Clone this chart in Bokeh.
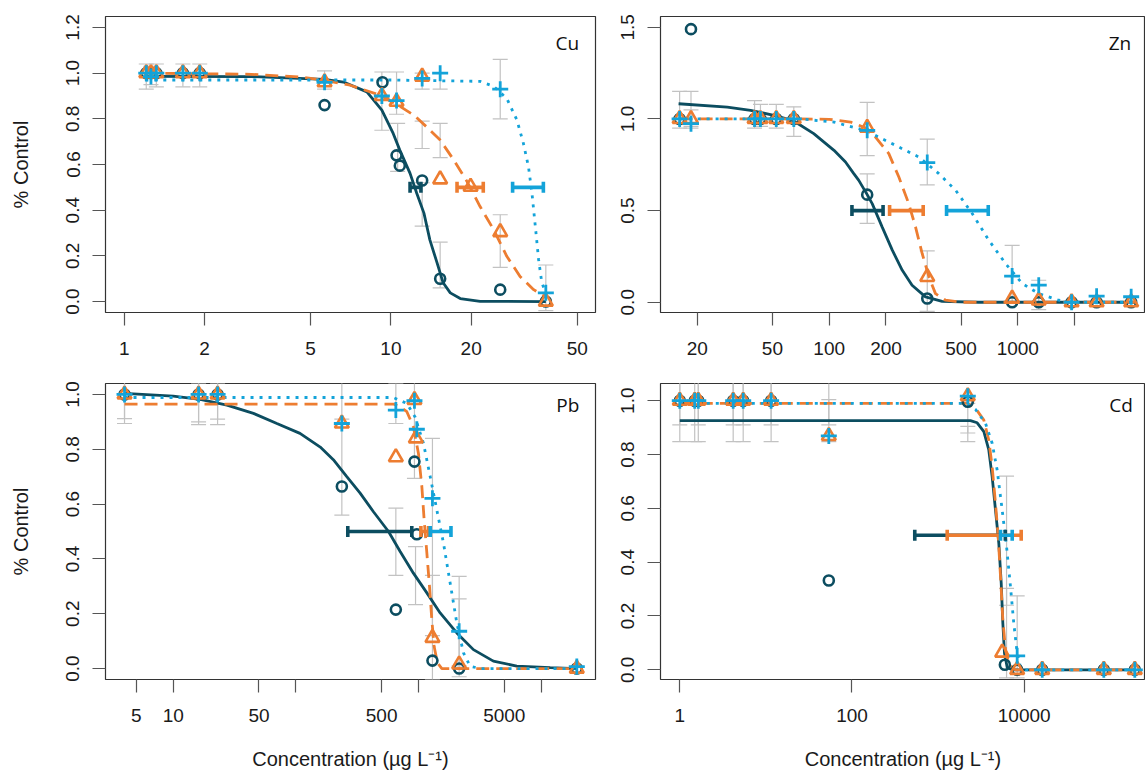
from bokeh.plotting import figure
from bokeh.layouts import column, row
from bokeh.models import (Range1d, FixedTicker, PrintfTickFormatter, Whisker, TeeHead,
                          ColumnDataSource, Label)
from bokeh.embed import file_html
from bokeh.resources import INLINE

DARK = "#0c4d60"
ORANGE = "#ed7d31"
BLUE = "#13a3d9"
GREY = "#c2c2c2"

# ---------------- Cu ----------------
cu_dark_x = [1.21, 1.26, 1.32, 1.66, 1.92, 5.64, 9.3, 10.5, 10.8, 13.1, 15.3, 25.7, 38.1]
cu_dark_y = [1.0, 1.0, 1.0, 1.0, 1.0, 0.86, 0.96, 0.64, 0.595, 0.53, 0.10, 0.052, 0.0]
cu_or_x = [1.21, 1.26, 1.32, 1.66, 1.92, 5.64, 9.25, 10.5, 13.1, 15.3, 19.9, 25.7, 38.1]
cu_or_y = [1.0, 1.0, 1.0, 1.0, 1.0, 0.96, 0.90, 0.875, 0.985, 0.535, 0.503, 0.304, 0.0]
cu_bl_x = [1.21, 1.26, 1.32, 1.66, 1.92, 5.64, 9.25, 10.5, 13.1, 15.3, 25.7, 38.1]
cu_bl_y = [1.0, 0.985, 1.0, 1.0, 1.0, 0.96, 0.90, 0.88, 0.977, 1.0, 0.93, 0.038]

cu_fit_dark_x = [1.2, 3.0, 5.64, 6.64, 8.13, 9.25, 10.2, 10.8, 11.8, 12.5, 13.3, 14.0, 14.9, 15.7, 16.7, 18.2, 21.6, 38.1]
cu_fit_dark_y = [0.986, 0.985, 0.973, 0.961, 0.918, 0.838, 0.736, 0.663, 0.561, 0.474, 0.387, 0.27, 0.169, 0.082, 0.038, 0.013, 0.001, 0.0]
cu_fit_or_x = [1.2, 3.0, 4.57, 5.64, 7.04, 9.12, 10.8, 12.2, 13.6, 15.3, 17.2, 19.3, 21.6, 24.3, 27.2, 30.5, 34.3, 38.1]
cu_fit_or_y = [1.0, 0.995, 0.983, 0.969, 0.947, 0.903, 0.855, 0.816, 0.765, 0.707, 0.62, 0.525, 0.416, 0.314, 0.198, 0.11, 0.052, 0.019]
cu_fit_bl_x = [1.2, 10.0, 21.6, 24.3, 27.2, 29.7, 31.4, 32.8, 33.8, 34.8, 35.8, 36.8, 38.1]
cu_fit_bl_y = [0.97, 0.97, 0.964, 0.942, 0.889, 0.794, 0.692, 0.59, 0.474, 0.329, 0.183, 0.082, 0.038]

cu_eb_x = [1.21, 1.26, 1.32, 1.66, 1.92, 5.64, 9.25, 10.5, 10.6, 13.1, 13.1, 13.1, 15.3, 15.3, 15.3, 25.7, 25.7, 38.1]
cu_eb_lo = [0.93, 0.95, 0.94, 0.94, 0.94, 0.93, 0.75, 0.82, 0.57, 0.93, 0.67, 0.33, 0.93, 0.63, 0.06, 0.80, 0.15, -0.04]
cu_eb_hi = [1.04, 1.03, 1.04, 1.04, 1.04, 1.01, 1.005, 1.005, 0.78, 1.0, 0.79, 0.52, 1.0, 0.78, 0.26, 1.06, 0.38, 0.16]

cu_ec50_lo = [11.8, 17.7, 28.6]
cu_ec50_hi = [12.96, 22.2, 37.3]

# ---------------- Zn ----------------
zn_x = [16.1, 18.5, 40.2, 43.2, 52.4, 64.9, 159, 331, 933, 1291, 1928, 2617, 3990]
zn_dark_y = [1.0, 1.49, 1.0, 1.0, 1.0, 1.0, 0.587, 0.02, 0.0, 0.0, 0.0, 0.0, 0.0]
zn_or_y = [1.0, 1.0, 1.0, 1.0, 1.0, 1.0, 0.952, 0.138, 0.02, 0.01, 0.0, 0.0, 0.0]
zn_bl_y = [1.0, 0.974, 1.0, 1.0, 1.0, 1.0, 0.938, 0.762, 0.143, 0.093, 0.0, 0.033, 0.03]

zn_fit_dark_x = [15.9, 28.8, 38.3, 50.9, 64.9, 82.8, 106, 122, 135, 143.5, 159, 169, 191, 216, 244, 275, 324, 397, 621, 4200]
zn_fit_dark_y = [1.083, 1.065, 1.047, 1.02, 0.989, 0.92, 0.829, 0.765, 0.702, 0.665, 0.587, 0.538, 0.41, 0.284, 0.174, 0.093, 0.029, 0.005, 0.0, 0.0]
zn_fit_or_x = [16.1, 70, 100, 130, 159, 176, 207, 234, 264, 287, 311, 338, 366, 414, 507, 4200]
zn_fit_or_y = [1.0, 1.0, 0.998, 0.983, 0.947, 0.901, 0.811, 0.683, 0.538, 0.41, 0.266, 0.138, 0.047, 0.011, 0.0, 0.0]
zn_fit_bl_x = [16.1, 70.5, 106, 159, 183, 234, 299, 381, 468, 573, 702, 861, 1055, 1291, 1648, 2104, 4200]
zn_fit_bl_y = [1.0, 1.0, 0.983, 0.934, 0.901, 0.847, 0.792, 0.702, 0.611, 0.484, 0.338, 0.211, 0.102, 0.047, 0.011, 0.0, 0.0]

zn_eb_x = [16.1, 18.5, 18.5, 40.2, 43.2, 52.4, 64.9, 159, 159, 331, 331, 933, 1291]
zn_eb_lo = [0.95, 0.95, 0.96, 0.95, 0.96, 0.95, 0.905, 0.80, 0.43, 0.64, -0.05, 0.0, -0.04]
zn_eb_hi = [1.15, 1.15, 1.05, 1.10, 1.08, 1.08, 1.066, 1.09, 0.70, 0.89, 0.28, 0.31, 0.12]

zn_ec50_lo = [132, 209, 419]
zn_ec50_hi = [193, 315, 697]

# ---------------- Pb ----------------
pb_dark_x = [4.01, 16.1, 23.0, 237, 653, 926, 968, 1298, 2143, 19500]
pb_dark_y = [1.0, 1.0, 1.0, 0.664, 0.215, 0.755, 0.49, 0.029, 0.0, 0.0]
pb_or_x = [4.01, 16.1, 23.0, 237, 653, 926, 951, 1298, 2143, 19500]
pb_or_y = [1.0, 1.0, 1.0, 0.894, 0.771, 0.98, 0.84, 0.112, 0.015, 0.0]
pb_bl_x = [4.01, 16.1, 23.0, 237, 653, 926, 968, 1298, 2143, 19500]
pb_bl_y = [1.0, 1.0, 1.0, 0.894, 0.943, 0.977, 0.873, 0.621, 0.136, 0.007]

pb_fit_dark_x = [4.01, 10.0, 16.6, 27.4, 45.1, 70, 108, 158, 202, 260, 334, 429, 569, 708, 908, 1169, 1500, 2051, 2801, 4074, 6320, 11830, 19500]
pb_fit_dark_y = [1.004, 0.994, 0.982, 0.961, 0.931, 0.894, 0.858, 0.808, 0.762, 0.70, 0.64, 0.572, 0.50, 0.427, 0.348, 0.276, 0.203, 0.13, 0.069, 0.027, 0.009, 0.003, 0.0]
pb_fit_or_x = [4.01, 624, 708, 803, 908, 998, 1064, 1111, 1169, 1228, 1283, 1339, 1425, 1549, 19500]
pb_fit_or_y = [0.965, 0.965, 0.955, 0.937, 0.882, 0.785, 0.664, 0.542, 0.421, 0.30, 0.178, 0.081, 0.021, 0.0, 0.0]
pb_fit_bl_x = [4.01, 624, 803, 937, 1096, 1245, 1409, 1596, 1810, 2051, 2325, 2633, 3175, 19500]
pb_fit_bl_y = [0.989, 0.989, 0.967, 0.918, 0.822, 0.70, 0.579, 0.458, 0.312, 0.166, 0.057, 0.0085, 0.0, 0.0]

pb_eb_x = [4.01, 4.01, 16.1, 16.1, 23.0, 23.0, 237, 237, 653, 653, 926, 945, 1298, 1298, 2143, 2143]
pb_eb_lo = [0.894, 0.912, 0.89, 0.90, 0.89, 0.91, 0.56, 0.88, 0.894, 0.34, 0.694, 0.233, -0.04, 0.12, -0.03, 0.01]
pb_eb_hi = [1.10, 1.09, 1.10, 1.04, 1.10, 1.04, 1.10, 0.91, 1.04, 0.585, 1.10, 0.445, 0.84, 0.34, 0.336, 0.254]

pb_ec50_lo = [265, 1045, 1245]
pb_ec50_hi = [881, 1206, 1838]

# ---------------- Cd ----------------
cd_dark_x = [1.0, 1.49, 1.64, 4.17, 5.45, 11.5, 53.8, 2213, 5960, 8290, 16200, 84100, 192600]
cd_dark_y = [1.0, 1.0, 1.0, 1.0, 1.0, 1.0, 0.332, 0.996, 0.019, 0.0, 0.0, 0.0, 0.0]
cd_or_x = [1.0, 1.49, 1.64, 4.17, 5.45, 11.5, 53.8, 2213, 5550, 8290, 16200, 84100, 192600]
cd_or_y = [1.0, 1.0, 1.0, 1.0, 1.0, 1.0, 0.869, 1.017, 0.064, 0.0, 0.0, 0.0, 0.0]
cd_bl_x = [1.0, 1.49, 1.64, 4.17, 5.45, 11.5, 53.8, 2213, 8290, 16200, 84100, 192600]
cd_bl_y = [1.0, 1.0, 1.0, 1.0, 1.0, 1.0, 0.869, 1.017, 0.052, 0.0, 0.0, 0.0]

cd_fit_dark_x = [1.0, 2377, 2844, 3400, 3880, 4245, 4640, 5075, 5410, 5650, 5905, 6350, 7260, 192600]
cd_fit_dark_y = [0.926, 0.926, 0.918, 0.885, 0.817, 0.718, 0.594, 0.47, 0.322, 0.173, 0.062, 0.009, 0.0, 0.0]
cd_fit_or_x = [1.0, 2213, 2717, 3400, 3880, 4245, 4640, 4990, 5310, 5650, 6070, 6640, 7920, 192600]
cd_fit_or_y = [0.99, 0.99, 0.972, 0.928, 0.854, 0.755, 0.619, 0.495, 0.347, 0.186, 0.074, 0.019, 0.0, 0.0]
cd_fit_bl_x = [1.0, 2100, 2717, 3555, 4245, 4850, 5550, 6240, 6930, 7570, 8290, 9060, 10350, 192600]
cd_fit_bl_y = [0.99, 0.99, 0.968, 0.916, 0.842, 0.743, 0.594, 0.458, 0.309, 0.173, 0.062, 0.009, 0.0, 0.0]

cd_eb_x = [1.0, 1.0, 1.49, 1.64, 1.64, 4.17, 4.17, 5.45, 5.45, 11.5, 11.5, 53.8, 53.8, 2213, 2213, 6240, 6240, 8290]
cd_eb_lo = [0.848, 0.91, 0.848, 0.848, 0.91, 0.848, 0.91, 0.848, 0.91, 0.848, 0.91, 0.848, 0.91, 0.848, 0.88, -0.03, 0.24, -0.03]
cd_eb_hi = [1.07, 1.07, 1.07, 1.07, 1.07, 1.07, 1.07, 1.07, 1.07, 1.07, 1.07, 1.07, 1.004, 0.99, 0.905, 0.72, 0.303, 0.275]

cd_ec50_lo = [536, 1276, 5310]
cd_ec50_hi = [6040, 9230, 7260]

EC50_LEVEL = 0.5

FONT = "Liberation Sans"


def make_panel(width, height, borders, xr, yr, xticks, xlabels, yticks,
               pts, fits, eb, ec50, tag, tag_xy, ylab, xlab):
    p = figure(width=width, height=height, x_axis_type="log",
               x_range=Range1d(*xr), y_range=Range1d(*yr),
               output_backend="svg", toolbar_location=None,
               min_border_left=borders[0], min_border_right=borders[1],
               min_border_top=borders[2], min_border_bottom=borders[3])
    p.xgrid.visible = False
    p.ygrid.visible = False
    p.outline_line_color = "#333333"
    p.outline_line_width = 1.2
    p.background_fill_color = "white"
    p.border_fill_color = "white"

    p.xaxis.ticker = FixedTicker(ticks=xticks, minor_ticks=[])
    p.xaxis.major_label_overrides = {t: l for t, l in zip(xticks, xlabels)}
    p.yaxis.ticker = FixedTicker(ticks=yticks, minor_ticks=[])
    p.yaxis.formatter = PrintfTickFormatter(format="%.1f")
    p.yaxis.major_label_orientation = "parallel"
    for ax in (p.xaxis[0], p.yaxis[0]):
        ax.axis_line_color = None
        ax.major_tick_in = 0
        ax.major_tick_out = 13
        ax.major_tick_line_color = "#555555"
        ax.major_tick_line_width = 1.2
        ax.minor_tick_line_color = None
        ax.major_label_text_font = FONT
        ax.major_label_text_font_size = "19px"
        ax.major_label_text_color = "#1a1a1a"
        ax.axis_label_text_font = FONT
        ax.axis_label_text_font_size = "20px"
        ax.axis_label_text_font_style = "normal"
        ax.axis_label_text_color = "#1a1a1a"
    p.xaxis.major_label_standoff = 16
    p.yaxis.major_label_standoff = 13
    if ylab:
        p.yaxis.axis_label = ylab
        p.yaxis.axis_label_standoff = 32
    if xlab:
        p.xaxis.axis_label = xlab
        p.xaxis.axis_label_standoff = 23

    # grey error bars
    src_eb = ColumnDataSource(dict(x=eb[0], lo=eb[1], hi=eb[2]))
    p.add_layout(Whisker(base="x", lower="lo", upper="hi", source=src_eb, dimension="height",
                         line_color=GREY, line_width=1.2, level="underlay",
                         upper_head=TeeHead(size=15, line_color=GREY, line_width=1.2),
                         lower_head=TeeHead(size=15, line_color=GREY, line_width=1.2)))

    # fitted curves
    p.line(fits[0][0], fits[0][1], line_color=DARK, line_width=2.8)
    p.line(fits[1][0], fits[1][1], line_color=ORANGE, line_width=2.8, line_dash="13 7")
    p.line(fits[2][0], fits[2][1], line_color=BLUE, line_width=2.8, line_dash="3 6")

    # points
    p.scatter(pts[0][0], pts[0][1], marker="circle", size=10, fill_color=None,
              line_color=DARK, line_width=2.6)
    p.scatter(pts[1][0], pts[1][1], marker="triangle", size=14, fill_color=None,
              line_color=ORANGE, line_width=2.6)
    p.scatter(pts[2][0], pts[2][1], marker="cross", size=16,
              line_color=BLUE, line_width=2.8)

    # EC50 with confidence intervals
    for lo, hi, col in zip(ec50[0], ec50[1], (DARK, ORANGE, BLUE)):
        s = ColumnDataSource(dict(y=[EC50_LEVEL], lo=[lo], hi=[hi]))
        p.add_layout(Whisker(base="y", lower="lo", upper="hi", source=s, dimension="width",
                             line_color=col, line_width=3.6, level="annotation",
                             upper_head=TeeHead(size=11, line_color=col, line_width=3.6),
                             lower_head=TeeHead(size=11, line_color=col, line_width=3.6)))

    p.add_layout(Label(x=tag_xy[0], y=tag_xy[1], text=tag, text_align="right",
                       text_baseline="middle", text_font="Open Sans",
                       text_font_size="19px", text_color="#111111"))
    return p


XLAB = "Concentration (\u00b5g L\u207b\u00b9)"

p_cu = make_panel(610, 370, (105, 15, 16, 58), (0.851, 58.5), (-0.048, 1.248),
                  [1, 2, 5, 10, 20, 50], ["1", "2", "5", "10", "20", "50"],
                  [0, 0.2, 0.4, 0.6, 0.8, 1.0, 1.2],
                  [(cu_dark_x, cu_dark_y), (cu_or_x, cu_or_y), (cu_bl_x, cu_bl_y)],
                  [(cu_fit_dark_x, cu_fit_dark_y), (cu_fit_or_x, cu_fit_or_y), (cu_fit_bl_x, cu_fit_bl_y)],
                  (cu_eb_x, cu_eb_lo, cu_eb_hi), (cu_ec50_lo, cu_ec50_hi),
                  "Cu", (50.8, 1.13), "% Control", None)

p_zn = make_panel(535, 370, (50, 0, 16, 58), (12.75, 4753), (-0.056, 1.559),
                  [20, 50, 100, 200, 500, 1000, 2000], ["20", "50", "100", "200", "500", "1000", ""],
                  [0, 0.5, 1.0, 1.5],
                  [(zn_x, zn_dark_y), (zn_x, zn_or_y), (zn_x, zn_bl_y)],
                  [(zn_fit_dark_x, zn_fit_dark_y), (zn_fit_or_x, zn_fit_or_y), (zn_fit_bl_x, zn_fit_bl_y)],
                  (zn_eb_x, zn_eb_lo, zn_eb_hi), (zn_ec50_lo, zn_ec50_hi),
                  "Zn", (3990, 1.412), None, None)

p_pb = make_panel(610, 403, (105, 15, 13, 94), (2.806, 27700), (-0.04, 1.04),
                  [5, 10, 50, 100, 500, 1000, 5000, 10000],
                  ["5", "10", "50", "", "500", "", "5000", ""],
                  [0, 0.2, 0.4, 0.6, 0.8, 1.0],
                  [(pb_dark_x, pb_dark_y), (pb_or_x, pb_or_y), (pb_bl_x, pb_bl_y)],
                  [(pb_fit_dark_x, pb_fit_dark_y), (pb_fit_or_x, pb_fit_or_y), (pb_fit_bl_x, pb_fit_bl_y)],
                  (pb_eb_x, pb_eb_lo, pb_eb_hi), (pb_ec50_lo, pb_ec50_hi),
                  "Pb", (20470, 0.961), "% Control", XLAB)

p_cd = make_panel(535, 403, (50, 0, 13, 94), (0.597, 256400), (-0.036, 1.064),
                  [1, 100, 10000], ["1", "100", "10000"],
                  [0, 0.2, 0.4, 0.6, 0.8, 1.0],
                  [(cd_dark_x, cd_dark_y), (cd_or_x, cd_or_y), (cd_bl_x, cd_bl_y)],
                  [(cd_fit_dark_x, cd_fit_dark_y), (cd_fit_or_x, cd_fit_or_y), (cd_fit_bl_x, cd_fit_bl_y)],
                  (cd_eb_x, cd_eb_lo, cd_eb_hi), (cd_ec50_lo, cd_ec50_hi),
                  "Cd", (182600, 0.984), None, XLAB)

layout = column(row(p_cu, p_zn), row(p_pb, p_cd))
open("out.html", "w").write(file_html(layout, INLINE))
